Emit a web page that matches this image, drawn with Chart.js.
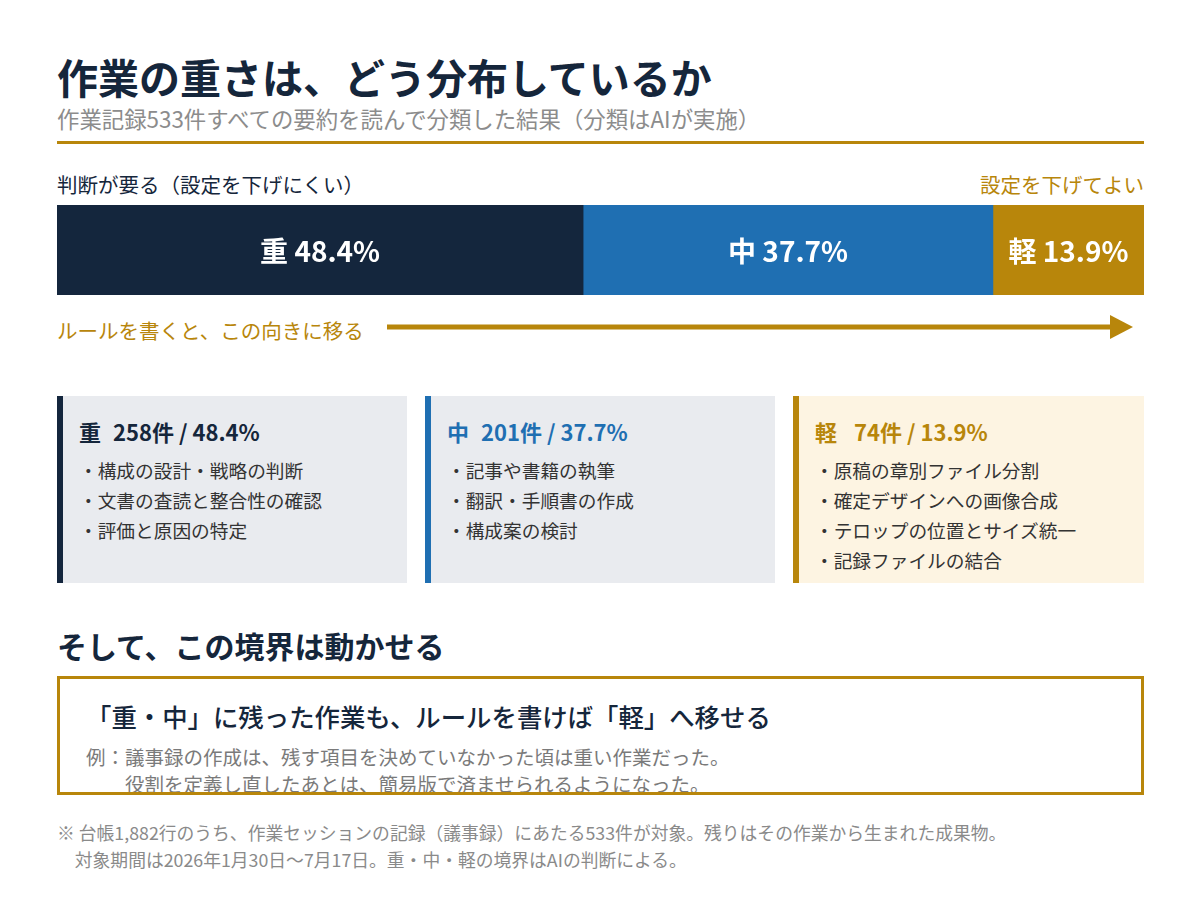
<!DOCTYPE html>
<html lang="ja">
<head>
<meta charset="utf-8">
<script src="https://cdn.jsdelivr.net/npm/chart.js@4.4.1/dist/chart.umd.min.js"></script>
<style>
  body { margin: 0; background: #fff; font-family: "Noto Sans CJK JP", "Noto Sans", sans-serif; }
  .page { position: relative; width: 1200px; height: 911px; }
  .abs { position: absolute; white-space: nowrap; }
  h1 { margin: 0; font-size: 41px; font-weight: 700; color: #15263b; line-height: 40px; }
  .sub { font-size: 22.4px; color: #8c8c8c; line-height: 22px; }
  .rule { left: 57px; top: 141px; width: 1087px; height: 3px; background: #b8860b; }
  .side { font-size: 20.5px; line-height: 1; }
  .card { position: absolute; top: 396px; width: 344px; height: 187px; border-left: 6px solid; box-sizing: border-box; padding: 22px 0 0 16px; }
  .card h3 { margin: 0 0 11px; font-size: 22px; font-weight: 700; line-height: 26px; white-space: pre; }
  .card h3 .cat { margin-right: 7px; }
  .card ul { margin: 0; padding: 0; list-style: none; }
  .card li { font-size: 18.7px; line-height: 30px; color: #333; }
  h2 { margin: 0; font-size: 30px; font-weight: 700; color: #15263b; line-height: 1; }
  .box { position: absolute; left: 57px; top: 676px; width: 1087px; height: 119px; border: 3px solid #b8860b; box-sizing: border-box; overflow: hidden; padding: 20px 0 0 26px; }
  .box .lead { font-size: 25.4px; font-weight: 500; color: #15263b; line-height: 34px; }
  .box .ex { margin-top: 10px; font-size: 19.5px; color: #7a7a7a; line-height: 27px; }
  .note { font-size: 17.8px; color: #8a8a8a; line-height: 27px; }
</style>
</head>
<body>
<div class="page">
  <h1 class="abs" style="left:57px; top:56px;">作業の重さは、どう分布しているか</h1>
  <div class="abs sub" style="left:57px; top:107px;">作業記録533件すべての要約を読んで分類した結果（分類はAIが実施）</div>
  <div class="abs rule"></div>

  <div class="abs side" style="left:57px; top:174px; color:#15263b;">判断が要る（設定を下げにくい）</div>
  <div class="abs side" style="right:56px; top:174px; color:#b8860b;">設定を下げてよい</div>

  <div class="abs" style="left:57px; top:205px; width:1087px; height:90px;">
    <canvas id="shareChart"></canvas>
  </div>

  <div class="abs side" style="left:57px; top:320px; color:#b8860b;">ルールを書くと、この向きに移る</div>
  <svg class="abs" style="left:380px; top:310px;" width="760" height="34">
    <line x1="7" y1="17" x2="735" y2="17" stroke="#b8860b" stroke-width="5"/>
    <polygon points="730,5 753,17 730,29" fill="#b8860b"/>
  </svg>

  <div id="cards"></div>

  <h2 class="abs" style="left:57px; top:630px;">そして、この境界は動かせる</h2>
  <div class="box">
    <div class="lead">「重・中」に残った作業も、ルールを書けば「軽」へ移せる</div>
    <div class="ex">例：議事録の作成は、残す項目を決めていなかった頃は重い作業だった。<br>&emsp;&emsp;役割を定義し直したあとは、簡易版で済ませられるようになった。</div>
  </div>

  <div class="abs note" style="left:57px; top:819px;">※ 台帳1,882行のうち、作業セッションの記録（議事録）にあたる533件が対象。残りはその作業から生まれた成果物。<br>&ensp;&ensp;対象期間は2026年1月30日〜7月17日。重・中・軽の境界はAIの判断による。</div>
</div>

<script>
// data
const categories = ['重', '中', '軽'];
const shares = [48.4, 37.7, 13.9];
const counts = [258, 201, 74];
const examples = [
    ['構成の設計・戦略の判断', '文書の査読と整合性の確認', '評価と原因の特定'],
    ['記事や書籍の執筆', '翻訳・手順書の作成', '構成案の検討'],
    ['原稿の章別ファイル分割', '確定デザインへの画像合成', 'テロップの位置とサイズ統一', '記録ファイルの結合']
];
const barColors = ['#14263d', '#1f6fb2', '#b8860b'];
const cardBgs = ['#e9ebef', '#e9ebef', '#fdf4e2'];
const titleColors = ['#15263b', '#1f6fb2', '#b8860b'];

// labels drawn inside each segment
const segmentLabels = {
    id: 'segmentLabels',
    afterDatasetsDraw(chart) {
        const ctx = chart.ctx;
        ctx.save();
        ctx.fillStyle = '#fff';
        ctx.font = 'bold 28px "Noto Sans CJK JP"';
        ctx.textAlign = 'center';
        ctx.textBaseline = 'middle';
        chart.data.datasets.forEach((ds, i) => {
            const bar = chart.getDatasetMeta(i).data[0];
            ctx.fillText(categories[i] + ' ' + ds.data[0].toFixed(1) + '%', (bar.x + bar.base) / 2, bar.y + 1);
        });
        ctx.restore();
    }
};

const shareCtx = document.getElementById('shareChart').getContext('2d');
const shareChart = new Chart(shareCtx, {
    type: 'bar',
    data: {
        labels: ['作業'],
        datasets: categories.map((c, i) => ({
            label: c,
            data: [shares[i]],
            backgroundColor: barColors[i],
            borderWidth: 0,
            barPercentage: 1,
            categoryPercentage: 1
        }))
    },
    options: {
        indexAxis: 'y',
        responsive: true,
        maintainAspectRatio: false,
        animation: false,
        layout: { padding: 0 },
        plugins: {
            legend: { display: false },
            tooltip: { enabled: false }
        },
        scales: {
            x: { stacked: true, min: 0, max: 100, display: false },
            y: { stacked: true, display: false }
        }
    },
    plugins: [segmentLabels]
});

// cards under the bar
const cardsEl = document.getElementById('cards');
const cardLefts = [57, 425, 793];
categories.forEach((c, i) => {
    const card = document.createElement('div');
    card.className = 'card';
    card.style.left = cardLefts[i] + 'px';
    card.style.width = (i === 2 ? 351 : 350) + 'px';
    card.style.background = cardBgs[i];
    card.style.borderColor = barColors[i];
    const gap = String(counts[i]).length < 3 ? '  ' : ' ';
    let html = '<h3 style="color:' + titleColors[i] + '"><span class="cat">' + c + '</span>' + gap + counts[i] + '件 / ' + shares[i].toFixed(1) + '%</h3><ul>';
    examples[i].forEach(e => { html += '<li>・' + e + '</li>'; });
    card.innerHTML = html + '</ul>';
    cardsEl.appendChild(card);
});
</script>
</body>
</html>
